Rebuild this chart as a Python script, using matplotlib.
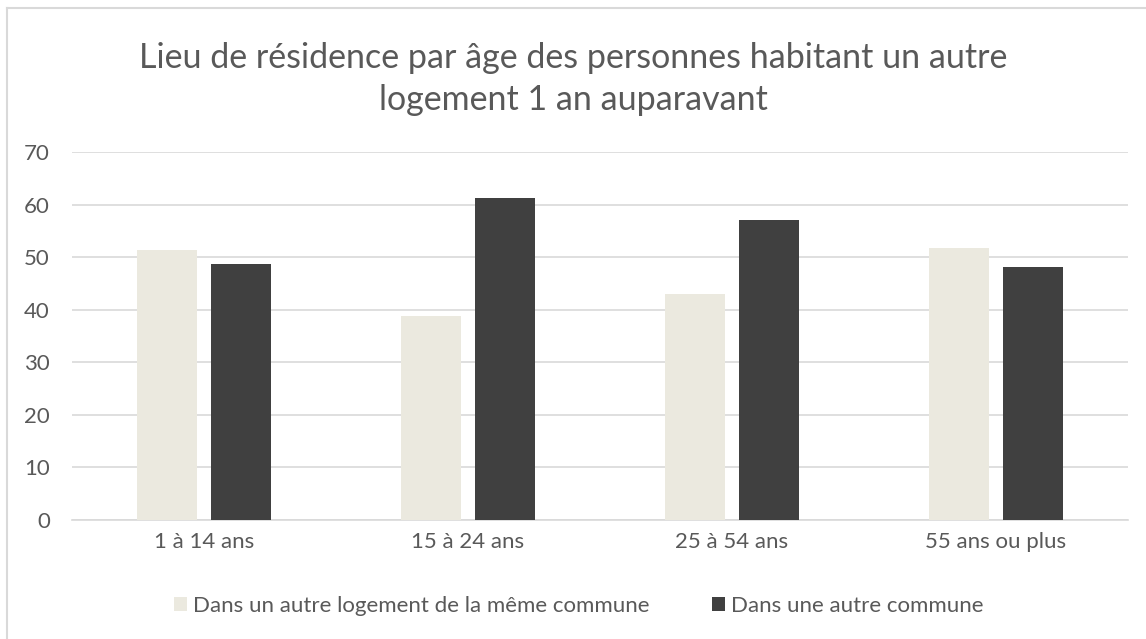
import numpy as np
import matplotlib
matplotlib.use("Agg")
import matplotlib.pyplot as plt
from matplotlib.lines import Line2D

plt.rcParams['font.family'] = ['Lato', 'DejaVu Sans']

categories = ['1 à 14 ans', '15 à 24 ans', '25 à 54 ans', '55 ans ou plus']
meme_commune = [51.3, 38.8, 42.9, 51.8]
autre_commune = [48.7, 61.2, 57.1, 48.2]
series_names = ['Dans un autre logement de la même commune', 'Dans une autre commune']
title = 'Lieu de résidence par âge des personnes habitant un autre\nlogement 1 an auparavant'

light = '#ebe9df'
dark = '#404040'
grey_txt = '#595959'
grid_col = '#d9d9d9'

fig = plt.figure(figsize=(11.46, 6.39), dpi=100)
W, H = 1146, 639
ax = fig.add_axes([72 / W, 1 - 520 / H, (1128 - 72) / W, (520 - 152) / H])

x = np.arange(len(categories))
bw = 0.224
off = 0.14
ax.bar(x - off, meme_commune, bw, color=light, label=series_names[0], zorder=3)
ax.bar(x + off, autre_commune, bw, color=dark, label=series_names[1], zorder=3)

ax.set_xlim(-0.5, len(categories) - 0.5)
ax.set_ylim(0, 70)
ax.set_yticks(range(0, 71, 10))
ax.set_xticks(x)
ax.set_xticklabels(categories)
ax.grid(axis='y', color=grid_col, linewidth=1.2, zorder=0)
for s in ['top', 'right', 'left']:
    ax.spines[s].set_visible(False)
ax.spines['bottom'].set_color(grid_col)
ax.spines['bottom'].set_linewidth(1.2)
ax.tick_params(axis='both', length=0, labelsize=16, colors=grey_txt)
ax.tick_params(axis='x', pad=9)
ax.tick_params(axis='y', pad=16)

fig.text(0.5, 1 - 79 / H, title, ha='center', va='center', fontsize=24.5,
         color=grey_txt, linespacing=1.38)

fig.legend(loc='center', bbox_to_anchor=(0.505, 1 - 606 / H), ncol=2, frameon=False,
           fontsize=16, labelcolor=grey_txt, handlelength=0.6, handleheight=0.6,
           handletextpad=0.27, columnspacing=2.8)

# chart frame (top and left edges visible)
fig.add_artist(Line2D([7 / W, 1], [1 - 8 / H, 1 - 8 / H], color=grid_col, lw=1.5,
                      transform=fig.transFigure))
fig.add_artist(Line2D([7 / W, 7 / W], [0, 1 - 8 / H], color=grid_col, lw=1.5,
                      transform=fig.transFigure))

fig.savefig('out.png', dpi=100)
